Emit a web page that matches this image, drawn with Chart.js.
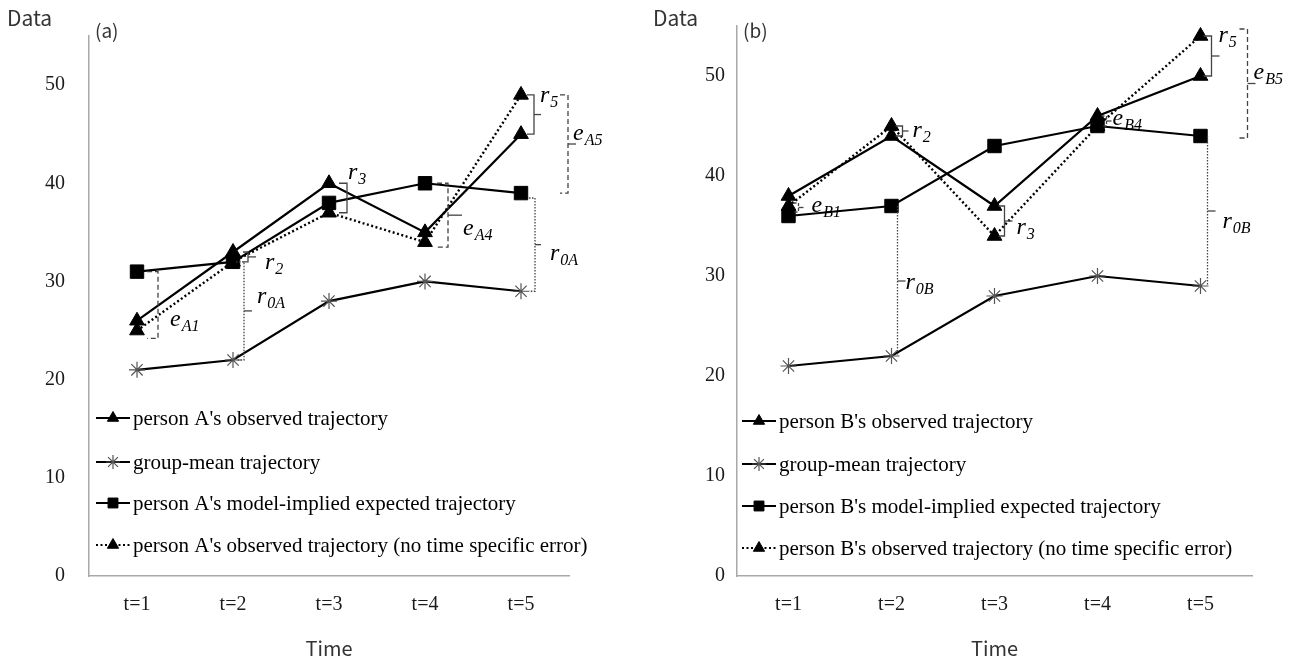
<!DOCTYPE html>
<html><head><meta charset="utf-8">
<script src="https://cdn.jsdelivr.net/npm/chart.js@4.4.0/dist/chart.umd.min.js"></script>
<style>
html,body{margin:0;padding:0;background:#fff;}
#wrap{position:relative;width:1292px;height:662px;overflow:hidden;}
.pane{position:absolute;top:0;width:646px;height:662px;}
canvas{display:block;}
</style></head><body>
<div id="wrap">
<div class="pane" style="left:0"><canvas id="cA" width="646" height="662"></canvas></div>
<div class="pane" style="left:646px"><canvas id="cB" width="646" height="662"></canvas></div>
</div>
<script>
// ---- data ----
const timeLabels = ['t=1','t=2','t=3','t=4','t=5'];
const yTickValues = [0,10,20,30,40,50];
const groupMean = [21,22,28,30,29];
const obsA   = [26,33,40,35,45];
const modelA = [31,32,38,40,39];
const noErrA = [25,32,37,34,49];
const obsB   = [38,44,37,46,50];
const modelB = [36,37,43,45,44];
const noErrB = [37,45,34,45,54];
const legendA = ["person A's observed trajectory","group-mean trajectory","person A's model-implied expected trajectory","person A's observed trajectory (no time specific error)"];
const legendB = ["person B's observed trajectory","group-mean trajectory","person B's model-implied expected trajectory","person B's observed trajectory (no time specific error)"];

// ---- annotation brackets (category index, value range, label) ----
const annotA = [
  {i:0, v1:modelA[0], v2:noErrA[0]-0.8, dx:21, tl:11, mid:0, dash:[5,3], m:'e', s:'A1', lx:12, ly:21},
  {i:1, v1:modelA[1], v2:groupMean[1], dx:11, tl:8, mid:8, dash:[1.5,1.5], m:'r', s:'0A', lx:13, ly:-8},
  {i:1, v1:obsA[1], v2:noErrA[1], dx:15, tl:5, mid:8, dash:[], m:'r', s:'2', lx:17, ly:12},
  {i:2, v1:obsA[2], v2:noErrA[2], dx:18, tl:8, mid:0, dash:[], m:'r', s:'3', lx:1, ly:-19},
  {i:3, v1:modelA[3], v2:noErrA[3]-0.5, dx:23, tl:11, mid:14, dash:[5,3], m:'e', s:'A4', lx:15, ly:20},
  {i:4, v1:noErrA[4], v2:obsA[4], dx:13, tl:7, mid:7, dash:[], m:'r', s:'5', lx:6, ly:-13},
  {i:4, v1:noErrA[4], v2:modelA[4], dx:47, tl:8, mid:8, dash:[5,3], m:'e', s:'A5', lx:5, ly:-4},
  {i:4, v1:modelA[4]-0.5, v2:groupMean[4], dx:14, tl:6, mid:6, dash:[1.5,1.5], m:'r', s:'0A', lx:15, ly:15}
];
const annotB = [
  {i:0, v1:noErrB[0]+0.3, v2:modelB[0]+0.4, dx:10, tl:5, mid:5, dash:[3,2], m:'e', s:'B1', lx:13, ly:4},
  {i:1, v1:noErrB[1], v2:obsB[1], dx:11, tl:7, mid:6, dash:[], m:'r', s:'2', lx:10, ly:6},
  {i:1, v1:modelB[1], v2:groupMean[1], dx:6, tl:0, mid:8, dash:[1.5,1.5], m:'r', s:'0B', lx:8, ly:8},
  {i:2, v1:obsB[2], v2:noErrB[2], dx:10, tl:6, mid:8, dash:[], m:'r', s:'3', lx:12, ly:13},
  {i:3, v1:obsB[3], v2:noErrB[3], dx:9, tl:5, mid:5, dash:[3,2], m:'e', s:'B4', lx:6, ly:4},
  {i:4, v1:noErrB[4], v2:obsB[4], dx:11, tl:8, mid:8, dash:[], m:'r', s:'5', lx:7, ly:-14},
  {i:4, v1:noErrB[4]+0.7, v2:modelB[4]-0.2, dx:47, tl:8, mid:8, dash:[5,3], m:'e', s:'B5', lx:6, ly:-5},
  {i:4, v1:modelB[4], v2:groupMean[4], dx:7, tl:0, mid:8, dash:[1.5,1.5], m:'r', s:'0B', lx:15, ly:17}
];

const SERIF = '"Liberation Serif", "Times New Roman", serif';
const SANS = '"Noto Sans CJK JP", "Noto Sans", sans-serif';

function datasets(obs, model, noErr) {
  return [
    {data: obs, borderColor:'#000', backgroundColor:'#000', borderWidth:2.2, pointStyle:'triangle', pointRadius:8.5, pointBorderWidth:1, order:0},
    {data: groupMean, borderColor:'#000', backgroundColor:'#555', pointBorderColor:'#555', borderWidth:2.2, pointStyle:'star', pointRadius:8, pointBorderWidth:1.2, order:3},
    {data: model, borderColor:'#000', backgroundColor:'#000', borderWidth:2.2, pointStyle:'rect', pointRadius:9.5, pointBorderWidth:1, order:1},
    {data: noErr, borderColor:'#000', backgroundColor:'#000', borderWidth:2.4, borderDash:[2,2.5], pointStyle:'triangle', pointRadius:8.5, pointBorderWidth:1, order:2}
  ];
}

function drawMath(ctx, main, sub, x, y) {
  ctx.save();
  ctx.fillStyle = '#000';
  ctx.textAlign = 'left';
  ctx.textBaseline = 'alphabetic';
  ctx.font = 'italic 24px ' + SERIF;
  ctx.fillText(main, x, y);
  const w = ctx.measureText(main).width;
  ctx.font = 'italic 16px ' + SERIF;
  ctx.fillText(sub, x + w + 1, y + 5);
  ctx.restore();
}

function overlayPlugin(cfg) {
  return {
    id: 'overlay' + cfg.tag,
    afterDatasetsDraw(chart) {
      const ctx = chart.ctx, xs = chart.scales.x, ys = chart.scales.y;
      // brackets
      cfg.annot.forEach(a => {
        const x = xs.getPixelForValue(a.i) + a.dx;
        const y1 = ys.getPixelForValue(a.v1), y2 = ys.getPixelForValue(a.v2);
        const ym = (y1 + y2) / 2;
        ctx.save();
        ctx.strokeStyle = '#444';
        ctx.lineWidth = 1.3;
        ctx.setLineDash(a.dash);
        ctx.beginPath();
        if (a.tl) { ctx.moveTo(x - a.tl, y1); ctx.lineTo(x, y1); }
        else ctx.moveTo(x, y1);
        ctx.lineTo(x, y2);
        if (a.tl) ctx.lineTo(x - a.tl, y2);
        ctx.stroke();
        if (a.mid) {
          ctx.setLineDash([]);
          ctx.beginPath();
          ctx.moveTo(x, ym); ctx.lineTo(x + a.mid, ym);
          ctx.stroke();
        }
        ctx.restore();
        drawMath(ctx, a.m, a.s, x + a.lx, ym + a.ly);
      });
      // legend
      const ds = chart.data.datasets;
      cfg.legend.forEach((txt, k) => {
        const d = ds[k];
        const y = cfg.legendY[k];
        ctx.save();
        ctx.strokeStyle = '#000';
        ctx.lineWidth = 2.2;
        ctx.setLineDash(d.borderDash || []);
        ctx.beginPath();
        ctx.moveTo(96, y); ctx.lineTo(130, y);
        ctx.stroke();
        ctx.setLineDash([]);
        ctx.fillStyle = d.backgroundColor;
        ctx.strokeStyle = d.pointBorderColor || d.borderColor;
        ctx.lineWidth = d.pointBorderWidth;
        const r = d.pointStyle === 'rect' ? 7 : (d.pointStyle === 'star' ? 7 : 6.5);
        Chart.helpers.drawPoint(ctx, {pointStyle: d.pointStyle, radius: r, rotation: 0, borderWidth: d.pointBorderWidth}, 113, y);
        ctx.fillStyle = '#000';
        ctx.font = '21px ' + SERIF;
        ctx.textBaseline = 'middle';
        ctx.textAlign = 'left';
        ctx.fillText(txt, 133, y + 1);
        ctx.restore();
      });
      // texts
      ctx.save();
      ctx.fillStyle = '#333';
      ctx.textBaseline = 'middle';
      ctx.textAlign = 'left';
      ctx.font = '21px ' + SANS;
      ctx.fillText('Data', 7, 18);
      ctx.font = '19px ' + SANS;
      ctx.fillText(cfg.tag, cfg.axisW + 6, 31);
      ctx.restore();
    }
  };
}

function makeChart(id, cfg) {
  return new Chart(document.getElementById(id), {
    type: 'line',
    data: {labels: timeLabels, datasets: datasets(cfg.obs, cfg.model, cfg.noErr)},
    options: {
      responsive: false, animation: false, events: [],
      layout: {padding: {top: 26, right: cfg.right, bottom: 2, left: 0}},
      plugins: {legend: {display: false}, tooltip: {enabled: false}},
      elements: {line: {tension: 0}},
      scales: {
        x: {
          type: 'category', offset: true,
          grid: {display: false, drawTicks: false},
          border: {display: true, color: '#a8a8a8', width: 1.5},
          ticks: {font: {family: SERIF, size: 20}, color: '#1a1a1a', padding: 17, maxRotation: 0},
          title: {display: true, text: 'Time', font: {family: SANS, size: 20}, color: '#333', padding: 0},
          afterFit(s) { s.height = 662 - 576 - 2; }
        },
        y: {
          min: 0, max: 55,
          grid: {display: false, drawTicks: false},
          border: {display: true, color: '#a8a8a8', width: 1.5},
          ticks: {stepSize: 10, font: {family: SERIF, size: 20}, color: '#1a1a1a', padding: cfg.tickPad},
          afterBuildTicks(s) { s.ticks = yTickValues.map(v => ({value: v})); },
          afterFit(s) { s.width = cfg.axisW; }
        }
      }
    },
    plugins: [overlayPlugin(cfg)]
  });
}

makeChart('cA', {tag: '(a)', obs: obsA, model: modelA, noErr: noErrA, right: 77, axisW: 89, tickPad: 24,
  annot: annotA, legend: legendA, legendY: [418, 462, 503, 545]});
makeChart('cB', {tag: '(b)', obs: obsB, model: modelB, noErr: noErrB, right: 40, axisW: 91, tickPad: 12,
  annot: annotB, legend: legendB, legendY: [421, 464, 506, 548]});
</script>
</body></html>
